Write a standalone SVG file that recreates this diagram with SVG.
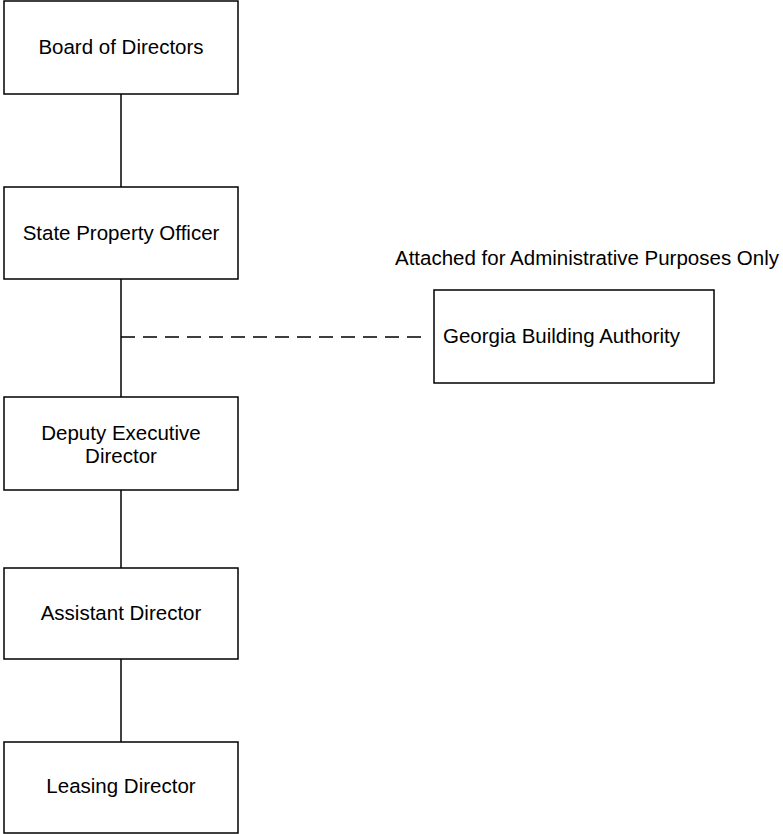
<svg xmlns="http://www.w3.org/2000/svg" width="783" height="834" viewBox="0 0 783 834">
<style>
.box{fill:#fff;stroke:#000;stroke-width:1.5}
.t{font-family:"Liberation Sans",Arial,sans-serif;font-size:20.5px;fill:#000;text-anchor:middle}
.c{stroke:#000;stroke-width:1.5;fill:none}
</style>
<rect width="783" height="834" fill="#fff"/>
<g id="connectors">
<line class="c" x1="121" y1="94" x2="121" y2="187"/>
<line class="c" x1="121" y1="279" x2="121" y2="397"/>
<line class="c" x1="121" y1="337" x2="426" y2="337" stroke-dasharray="14,8"/>
<line class="c" x1="121" y1="490" x2="121" y2="568"/>
<line class="c" x1="121" y1="659" x2="121" y2="742"/>
</g>
<g id="board"><rect class="box" x="4" y="1" width="234" height="93"/><text class="t" x="121" y="54">Board of Directors</text></g>
<g id="spo"><rect class="box" x="4" y="187" width="234" height="92"/><text class="t" x="121" y="240">State Property Officer</text></g>
<g id="deputy"><rect class="box" x="4" y="397" width="234" height="93"/><text class="t" x="121" y="440">Deputy Executive</text><text class="t" x="121" y="463">Director</text></g>
<g id="assistant"><rect class="box" x="4" y="568" width="234" height="91"/><text class="t" x="121" y="620">Assistant Director</text></g>
<g id="leasing"><rect class="box" x="4" y="742" width="234" height="91"/><text class="t" x="121" y="793">Leasing Director</text></g>
<g id="gba"><rect class="box" x="434" y="290" width="280" height="93"/><text class="t" x="443" y="343" style="text-anchor:start">Georgia Building Authority</text></g>
<text class="t" x="779" y="265" style="text-anchor:end">Attached for Administrative Purposes Only</text>
</svg>
